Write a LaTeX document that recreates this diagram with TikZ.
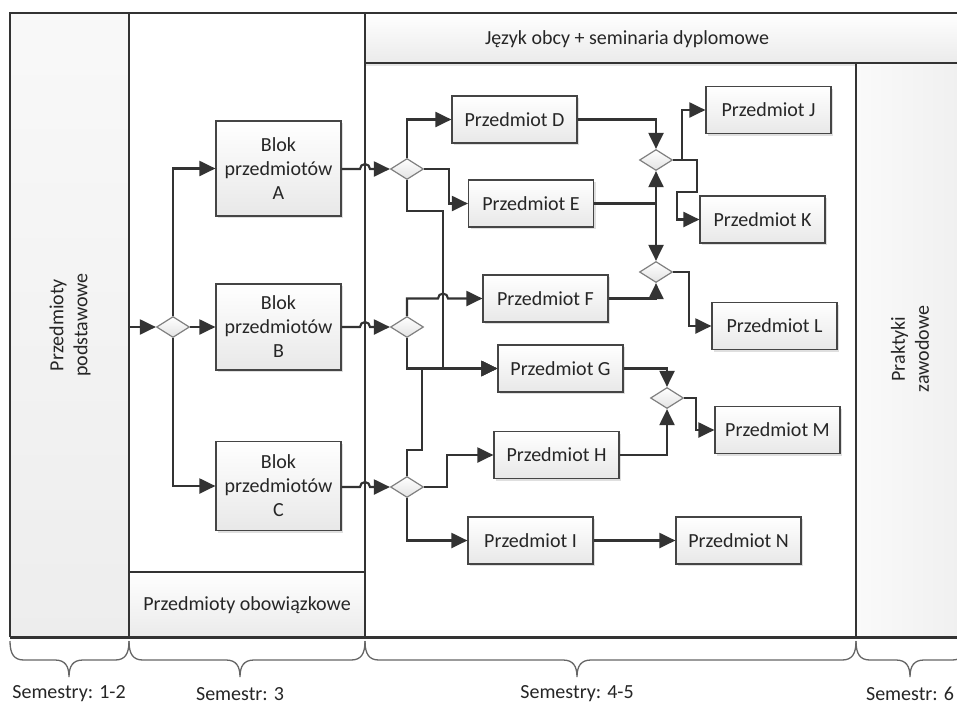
\documentclass[tikz,border=0pt]{standalone}
\usepackage{fontspec}
\setmainfont{Carlito}
\usetikzlibrary{arrows.meta,shapes.geometric,shadows,calc}
\definecolor{ln}{HTML}{333333}
\definecolor{txt}{HTML}{262626}
\definecolor{bord}{HTML}{454545}
\definecolor{dbord}{HTML}{808080}
\definecolor{brc}{HTML}{666666}
\newcommand{\semBrace}[3]{\draw[brace] (#1,641) .. controls (#1,654) and (#1+4,660) .. (#1+14,660) -- (#2-14,660) .. controls (#2-4,660) and (#2,666) .. (#2,677) .. controls (#2,666) and (#2+4,660) .. (#2+14,660) -- (#3-14,660) .. controls (#3-4,660) and (#3,654) .. (#3,641);}
\begin{document}
\begin{tikzpicture}[x=1pt,y=-1pt,
  every node/.style={font=\fontsize{20}{24}\selectfont, text=txt},
  subj/.style={draw=bord, line width=1.2pt, top color=white, bottom color=gray!18, minimum width=125pt, minimum height=47pt, inner sep=0pt, align=center, drop shadow={shadow xshift=2pt, shadow yshift=-2pt, opacity=0.25}},
  gate/.style={diamond, draw=dbord, line width=1.2pt, top color=white, bottom color=gray!22, minimum width=33pt, minimum height=21pt, inner sep=0pt},
  conn/.style={draw=ln, line width=2.1pt, -{Triangle[length=16pt,width=15pt]}},
  frame/.style={draw=ln, line width=1.8pt},
  brace/.style={draw=brc, line width=1.3pt},
]
\useasboundingbox (0,0) rectangle (957,707);
\fill[white] (0,0) rectangle (957,707);
% panels
\path[top color=gray!5, bottom color=gray!14] (10,13) rectangle (129,637);
\path[top color=white, bottom color=gray!16, drop shadow={shadow xshift=0pt, shadow yshift=-3pt, opacity=0.2}] (365,13) rectangle (962,63);
\path[left color=gray!4, right color=gray!12] (856,63) rectangle (962,637);
\path[top color=white, bottom color=gray!16] (129,572) rectangle (365,637);
\draw[frame] (10,637) -- (10,13) -- (962,13);
\draw[frame] (129,13) -- (129,637);
\draw[frame] (365,13) -- (365,637);
\draw[frame] (365,63) -- (962,63);
\draw[frame] (856,63) -- (856,637);
\draw[frame] (129,572) -- (365,572);
\draw[draw=ln, line width=3pt] (10,637) -- (962,637);
\coordinate (col2) at (365,0);
\coordinate (xv) at (443,0);
% texts in panels
\node[rotate=90, align=center] (tp) at (70,325) {Przedmioty\\podstawowe};
\node[rotate=90, align=center] (tz) at (910,349) {Praktyki\\zawodowe};
\node (tj) at (627,39) {Język obcy + seminaria dyplomowe};
\node (to) at (247,605) {Przedmioty obowiązkowe};
% braces and labels
\semBrace{10}{69}{129}
\semBrace{129}{240}{365}
\semBrace{365}{577}{856}
\semBrace{856}{910}{966}
\node (s1) at (69,694) {Semestry: 1-2};
\node (s2) at (240,694) {Semestr: 3};
\node (s3) at (577,694) {Semestry: 4-5};
\node (s4) at (910,694) {Semestr: 6};
% blocks
\node[subj, minimum height=95pt] (A) at (278.5,168.5) {Blok\\przedmiotów\\A};
\node[subj, minimum height=86pt] (B) at (278.5,327) {Blok\\przedmiotów\\B};
\node[subj, minimum height=89pt] (C) at (278.5,486) {Blok\\przedmiotów\\C};
\node[subj] (D) at (514.5,119.5) {Przedmiot D};
\node[subj] (E) at (531,203.5) {Przedmiot E};
\node[subj] (F) at (545.5,298.5) {Przedmiot F};
\node[subj] (G) at (560.5,368.5) {Przedmiot G};
\node[subj] (H) at (556.5,455) {Przedmiot H};
\node[subj] (I) at (530.5,540.5) {Przedmiot I};
\node[subj] (J) at (768.5,110) {Przedmiot J};
\node[subj] (K) at (762.5,219.5) {Przedmiot K};
\node[subj] (L) at (774.5,326) {Przedmiot L};
\node[subj] (M) at (777.5,430) {Przedmiot M};
\node[subj] (N) at (738.5,540.5) {Przedmiot N};
% gates
\node[gate] (g0) at (173,327) {};
\node[gate] (gA) at (407,169) {};
\node[gate] (gB) at (407,327) {};
\node[gate] (gC) at (407,487) {};
\node[gate] (gJ) at (656,160) {};
\node[gate] (gL) at (656,272) {};
\node[gate] (gM) at (667,398) {};
% connectors
\coordinate (p0) at (129,327);
\draw[conn] (p0) -- (g0.west);
\draw[conn] (g0.north) |- (A.west);
\draw[conn] (g0.east) -- (B.west);
\draw[conn] (g0.south) |- (C.west);
\draw[conn] (A.east |- gA) -- ($(col2 |- gA)+(-5,0)$) arc[start angle=180,end angle=360,radius=5] -- (gA.west);
\draw[conn] (B.east |- gB) -- ($(col2 |- gB)+(-5,0)$) arc[start angle=180,end angle=360,radius=5] -- (gB.west);
\draw[conn] (C.east |- gC) -- ($(col2 |- gC)+(-5,0)$) arc[start angle=180,end angle=360,radius=5] -- (gC.west);
\draw[conn] (gA.north) |- (D.west);
\draw[conn] (gA.east) -| ($(E.west)+(-19,0)$) -- (E.west);
\draw[conn] (gA.south) |- ($(xv |- gA.south)+(0,31)$) |- (G.west);
\draw[conn] (gB.north) |- ($(xv |- F.west)+(-5,0)$) arc[start angle=180,end angle=360,radius=5] -- (F.west);
\draw[conn] (gB.south) |- (G.west);
\draw[conn] (gC.north) |- ($(gC.north)+(15,-26)$) |- (G.west);
\draw[conn] (gC.east) -| ($(H.west)+(-46,0)$) -- (H.west);
\draw[conn] (gC.south) |- (I.west);
\draw[conn] (I.east) -- (N.west);
\draw[conn] (D.east) -| (gJ.north);
\draw[conn] (E.east) -| (gJ.south);
\draw[conn] (E.east) -| (gL.north);
\draw[conn] (F.east) -| (gL.south);
\draw[conn] (gJ.east) -| ($(J.west)+(-23,0)$) -- (J.west);
\draw[conn] (gJ.east) -| ($(gJ.east)+(24,32)$) -| ($(K.west)+(-22,0)$) -- (K.west);
\draw[conn] (gL.east) -| ($(L.west)+(-22,0)$) -- (L.west);
\draw[conn] (G.east) -| (gM.north);
\draw[conn] (H.east) -| (gM.south);
\draw[conn] (gM.east) -| ($(M.west)+(-18,0)$) -- (M.west);
\end{tikzpicture}
\end{document}
